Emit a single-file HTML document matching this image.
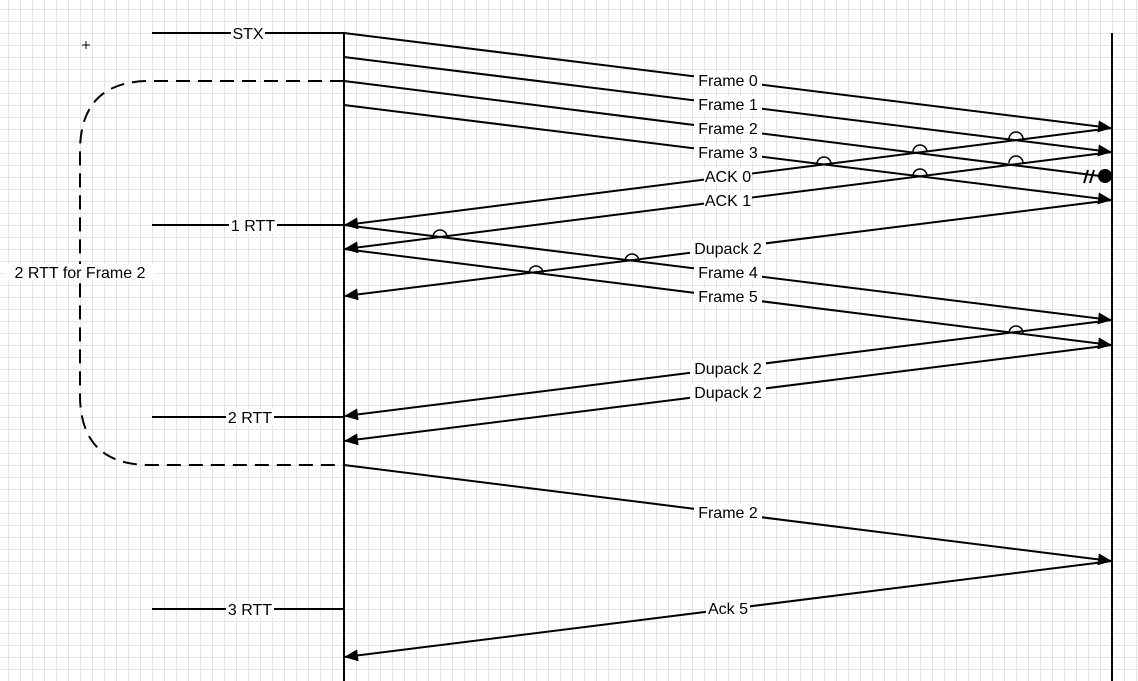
<!DOCTYPE html>
<html><head><meta charset="utf-8"><style>
html,body{margin:0;padding:0;}
body{width:1138px;height:681px;overflow:hidden;background:#fff;
background-image:
linear-gradient(to right,#e4e4e4 1px,transparent 1px),
linear-gradient(to bottom,#e4e4e4 1px,transparent 1px);
background-size:12px 12px,12px 12px;
background-position:8px 0,0 9px;}
svg{position:absolute;left:0;top:0;}
text{font-family:"Liberation Sans",sans-serif;font-size:16px;}
</style></head><body>
<svg width="1138" height="681" viewBox="0 0 1138 681">
<defs>
<marker id="a" markerWidth="14" markerHeight="12" refX="13" refY="6" orient="auto" markerUnits="userSpaceOnUse">
<path d="M0,0 L14,6 L0,12 Z" fill="#000"/></marker>
</defs>
<g stroke="#000" stroke-width="2" fill="none">
<line x1="344" y1="33" x2="344" y2="681"/>
<line x1="1112" y1="33" x2="1112" y2="681"/>
<line x1="152" y1="33" x2="344" y2="33"/>
<line x1="152" y1="225" x2="344" y2="225"/>
<line x1="152" y1="417" x2="344" y2="417"/>
<line x1="152" y1="609" x2="344" y2="609"/>
<path d="M344,81 H150 Q80,81 80,151 V395 Q80,465 150,465 H344" stroke-dasharray="14,8"/>
<line x1="344" y1="33" x2="1111" y2="128" marker-end="url(#a)"/>
<line x1="344" y1="57" x2="1111" y2="152" marker-end="url(#a)"/>
<line x1="344" y1="81" x2="1100" y2="176"/>
<line x1="344" y1="105" x2="1111" y2="200" marker-end="url(#a)"/>
<line x1="1112" y1="128" x2="345" y2="225" marker-end="url(#a)"/>
<line x1="1112" y1="152" x2="345" y2="249" marker-end="url(#a)"/>
<line x1="1112" y1="200" x2="345" y2="296" marker-end="url(#a)"/>
<line x1="344" y1="225" x2="1111" y2="320" marker-end="url(#a)"/>
<line x1="344" y1="249" x2="1111" y2="345" marker-end="url(#a)"/>
<line x1="1112" y1="320" x2="345" y2="416" marker-end="url(#a)"/>
<line x1="1112" y1="345" x2="345" y2="441" marker-end="url(#a)"/>
<line x1="344" y1="465" x2="1111" y2="561" marker-end="url(#a)"/>
<line x1="1112" y1="561" x2="345" y2="657" marker-end="url(#a)"/>
<line x1="1084" y1="183" x2="1088" y2="170"/>
<line x1="1090" y1="183" x2="1094" y2="170"/>
<g stroke-width="1.5">
<path d="M1009,139 A7,7 0 0 1 1023,139"/>
<path d="M913,152 A7,7 0 0 1 927,152"/>
<path d="M817,164 A7,7 0 0 1 831,164"/>
<path d="M1009,163 A7,7 0 0 1 1023,163"/>
<path d="M913,176 A7,7 0 0 1 927,176"/>
<path d="M433,237 A7,7 0 0 1 447,237"/>
<path d="M625,261 A7,7 0 0 1 639,261"/>
<path d="M529,273 A7,7 0 0 1 543,273"/>
<path d="M1009,333 A7,7 0 0 1 1023,333"/>
</g>
<path d="M82,45 H90 M86,41 V49" stroke-width="1"/>
</g>
<circle cx="1105" cy="176" r="7" fill="#000"/>
<g text-anchor="middle">
<g fill="#fff">
<rect x="231" y="25" width="34" height="16"/>
<rect x="229" y="217" width="48" height="16"/>
<rect x="226" y="409" width="48" height="16"/>
<rect x="226" y="601" width="48" height="16"/>
<rect x="4" y="264" width="152" height="16"/>
<rect x="694" y="72" width="68" height="16"/>
<rect x="694" y="96" width="68" height="16"/>
<rect x="694" y="120" width="68" height="16"/>
<rect x="694" y="144" width="68" height="16"/>
<rect x="704" y="168" width="48" height="16"/>
<rect x="704" y="192" width="48" height="16"/>
<rect x="690" y="240" width="76" height="16"/>
<rect x="694" y="264" width="68" height="16"/>
<rect x="694" y="288" width="68" height="16"/>
<rect x="690" y="360" width="76" height="16"/>
<rect x="690" y="384" width="76" height="16"/>
<rect x="694" y="504" width="68" height="16"/>
<rect x="706" y="600" width="44" height="16"/>
</g>
<text x="248" y="39">STX</text>
<text x="253" y="231">1 RTT</text>
<text x="250" y="423">2 RTT</text>
<text x="250" y="615">3 RTT</text>
<text x="80" y="278">2 RTT for Frame 2</text>
<text x="728" y="86">Frame 0</text>
<text x="728" y="110">Frame 1</text>
<text x="728" y="134">Frame 2</text>
<text x="728" y="158">Frame 3</text>
<text x="728" y="182">ACK 0</text>
<text x="728" y="206">ACK 1</text>
<text x="728" y="254">Dupack 2</text>
<text x="728" y="278">Frame 4</text>
<text x="728" y="302">Frame 5</text>
<text x="728" y="374">Dupack 2</text>
<text x="728" y="398">Dupack 2</text>
<text x="728" y="518">Frame 2</text>
<text x="728" y="614">Ack 5</text>
</g>
</svg>
</body></html>
